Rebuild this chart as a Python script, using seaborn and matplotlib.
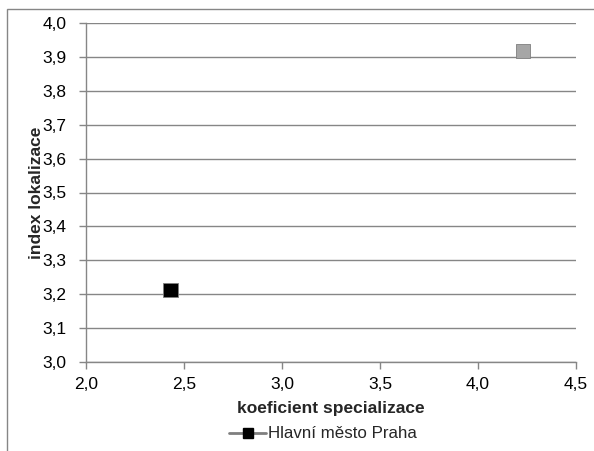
import matplotlib
matplotlib.use("Agg")
import matplotlib.pyplot as plt
import seaborn as sns
import pandas as pd
from matplotlib.lines import Line2D
from matplotlib.patches import Rectangle
from matplotlib.ticker import FuncFormatter

# data
series = ["Hlavní město Praha", "ostatní"]
x_spec = [2.43, 4.23]
y_lok = [3.213, 3.918]
colors = ["#000000", "#a6a6a6"]

df = pd.DataFrame({"koef": x_spec, "index": y_lok, "serie": series})

sns.set_style("white")
plt.rcParams["font.family"] = ["Liberation Sans", "DejaVu Sans"]

fig = plt.figure(figsize=(5.94, 4.51), dpi=100)
ax = fig.add_axes([86 / 594, 1 - 362 / 451, (576 - 86) / 594, (362 - 23) / 451])

sns.scatterplot(data=df, x="koef", y="index", hue="serie", palette=colors,
                marker="s", s=110, edgecolor="#7f7f7f", linewidth=0.6,
                legend=False, ax=ax, zorder=3)

ax.set_xlim(2.0, 4.5)
ax.set_ylim(3.0, 4.0)
ax.set_xticks([2.0, 2.5, 3.0, 3.5, 4.0, 4.5])
ax.set_yticks([3.0 + i * 0.1 for i in range(11)])
fmt = FuncFormatter(lambda v, p: f"{v:.1f}".replace(".", ","))
ax.xaxis.set_major_formatter(fmt)
ax.yaxis.set_major_formatter(fmt)
ax.tick_params(axis="both", labelsize=12.5, colors="#868686", labelcolor="black",
               length=5, width=1, direction="out", left=True, bottom=True)
ax.tick_params(axis="y", pad=9)
ax.tick_params(axis="x", pad=6)
ax.grid(axis="y", color="#868686", linewidth=1)
ax.set_axisbelow(True)
for s in ["top", "right"]:
    ax.spines[s].set_visible(False)
for s in ["left", "bottom"]:
    ax.spines[s].set_color("#868686")
    ax.spines[s].set_linewidth(1)

ax.set_xlabel("koeficient specializace", fontsize=12.5, fontweight="bold", labelpad=6)
ax.set_ylabel("index lokalizace", fontsize=12.5, fontweight="bold", labelpad=-1)

handle = Line2D([0], [0], color="#7f7f7f", linewidth=2, marker="s",
                markersize=7, markerfacecolor="black", markeredgecolor="black")
fig.legend([handle], [series[0]], loc="center", bbox_to_anchor=(323 / 594, 1 - 434 / 451),
           frameon=False, fontsize=12.2, handlelength=2.2, handletextpad=0.1)

# outer frame of the chart area
fig.patches.append(Rectangle((7 / 594, -0.1), 1.2, 1 - 9 / 451 + 0.1, transform=fig.transFigure,
                             fill=False, edgecolor="#868686", linewidth=1))

fig.savefig("out.png", dpi=100)
